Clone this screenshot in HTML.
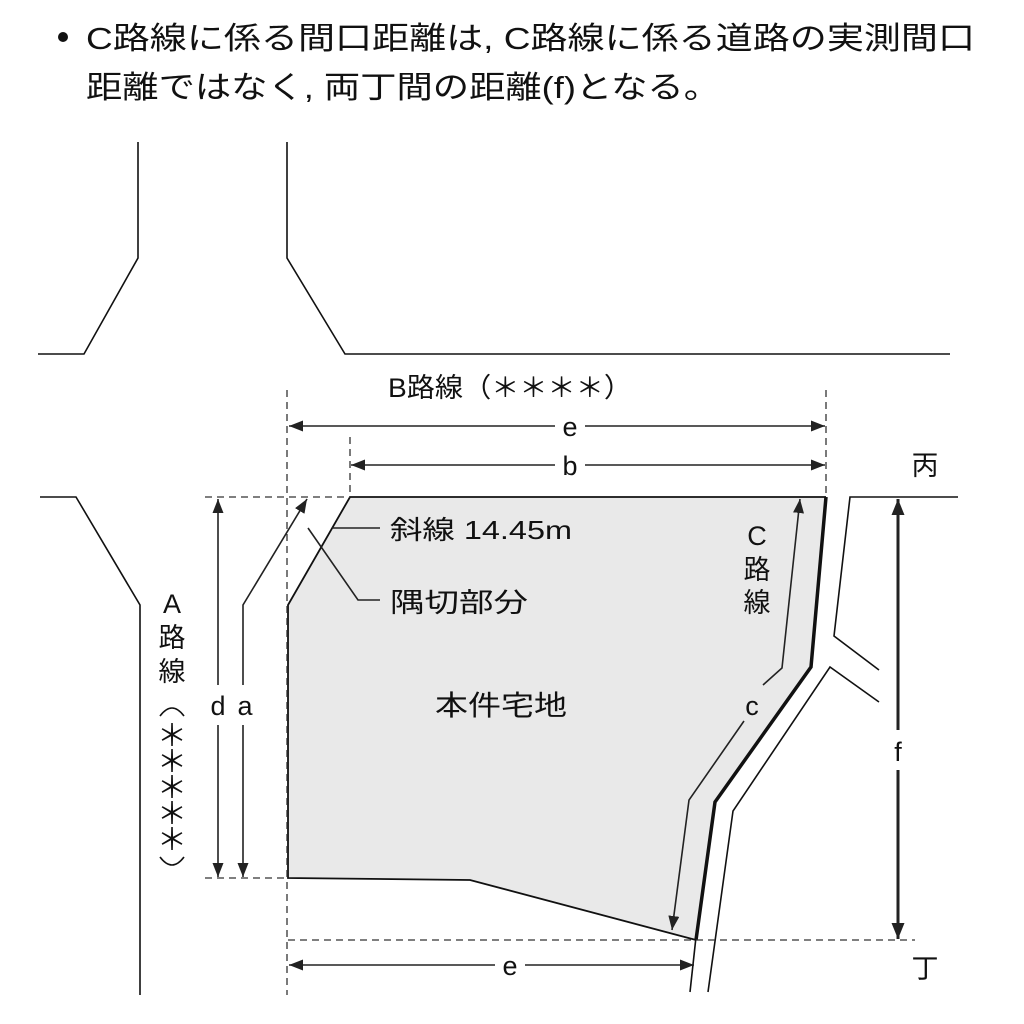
<!DOCTYPE html>
<html><head><meta charset="utf-8"><style>
html,body{margin:0;padding:0;background:#fff;}
svg{display:block;}
text{font-family:"Liberation Sans","Noto Sans CJK JP",sans-serif;fill:#111;}
</style></head><body>
<svg width="1024" height="1024" viewBox="0 0 1024 1024" xmlns="http://www.w3.org/2000/svg">
<defs>
<marker id="ar" viewBox="0 0 10 10" refX="10" refY="5" markerWidth="14" markerHeight="11" orient="auto-start-reverse" markerUnits="userSpaceOnUse" preserveAspectRatio="none"><path d="M0,0 L10,5 L0,10 z" fill="#222"/></marker>
<marker id="ar2" viewBox="0 0 10 10" refX="10" refY="5" markerWidth="16" markerHeight="13" orient="auto-start-reverse" markerUnits="userSpaceOnUse" preserveAspectRatio="none"><path d="M0,0 L10,5 L0,10 z" fill="#222"/></marker>
</defs>
<circle cx="63" cy="37" r="5" fill="#111"/>
<text x="86" y="49" font-size="31" textLength="889" lengthAdjust="spacingAndGlyphs">C路線に係る間口距離は, C路線に係る道路の実測間口</text>
<text x="86" y="98" font-size="31" textLength="634" lengthAdjust="spacingAndGlyphs">距離ではなく, 両丁間の距離(f)となる。</text>

<g stroke="#111" stroke-width="1.6" fill="none">
<polyline points="138,142 138,258 84,354 38,354"/>
<polyline points="287,142 287,258 345,354 950,354"/>
<polyline points="40,497 76,497 140,605 140,995"/>
<polyline points="958,497 850,497 834,636 879,670"/>
<polyline points="879,702 830,667 733,811 708,992"/>
<polyline points="696,937 690,992"/>
</g>
<polygon points="350,497 826,497 811,667 715,802 696,940 470,880 288,878 288,605" fill="#e9e9e9" stroke="none"/>
<polyline points="826,497 350,497 288,605 288,878 470,880 696,940" fill="none" stroke="#111" stroke-width="1.8"/>
<polyline points="826,497 811,667 715,802 696,940" fill="none" stroke="#111" stroke-width="3.5"/>

<g stroke="#333" stroke-width="1.3" stroke-dasharray="7,5" fill="none">
<line x1="287" y1="390" x2="287" y2="995"/>
<line x1="350" y1="437" x2="350" y2="497"/>
<line x1="826" y1="390" x2="826" y2="497"/>
<line x1="205" y1="497" x2="350" y2="497"/>
<line x1="205" y1="878" x2="288" y2="878"/>
<line x1="288" y1="940" x2="915" y2="940"/>
</g>

<g stroke="#222" stroke-width="1.6" fill="none">
<line x1="289" y1="426" x2="555" y2="426" marker-start="url(#ar)"/>
<line x1="585" y1="426" x2="825" y2="426" marker-end="url(#ar)"/>
<line x1="351" y1="465" x2="555" y2="465" marker-start="url(#ar)"/>
<line x1="585" y1="465" x2="825" y2="465" marker-end="url(#ar)"/>
<line x1="289" y1="965" x2="495" y2="965" marker-start="url(#ar)"/>
<line x1="525" y1="965" x2="694" y2="965" marker-end="url(#ar)"/>
<line x1="218" y1="499" x2="218" y2="685" marker-start="url(#ar)"/>
<line x1="218" y1="725" x2="218" y2="877" marker-end="url(#ar)"/>
<polyline points="243,685 243,605 307,499" marker-end="url(#ar)"/>
<line x1="243" y1="725" x2="243" y2="877" marker-end="url(#ar)"/>
<polyline points="763,685 782,668 800,499" marker-end="url(#ar)"/>
<polyline points="744,721 689,800 672,930" marker-end="url(#ar)"/>
<line x1="898" y1="499" x2="898" y2="730" stroke-width="3" marker-start="url(#ar2)"/>
<line x1="898" y1="770" x2="898" y2="939" stroke-width="3" marker-end="url(#ar2)"/>
<polyline points="332,528 380,528"/>
<polyline points="308,528 358,600 380,600"/>
<path d="M160,716 Q172,700 184,716" stroke="#111" stroke-width="1.6"/>
<path d="M160,857 Q172,873 184,857" stroke="#111" stroke-width="1.6"/>
</g>

<text x="388" y="397" font-size="27" textLength="244" lengthAdjust="spacingAndGlyphs">B路線（＊＊＊＊）</text>
<text x="570" y="436" font-size="27" text-anchor="middle">e</text>
<text x="570" y="475" font-size="27" text-anchor="middle">b</text>
<text x="510" y="975" font-size="27" text-anchor="middle">e</text>
<text x="925" y="475" font-size="27" text-anchor="middle">丙</text>
<text x="925" y="978" font-size="27" text-anchor="middle">丁</text>
<text x="390" y="539" font-size="26" textLength="182" lengthAdjust="spacingAndGlyphs">斜線 14.45m</text>
<text x="390" y="612" font-size="27" textLength="138" lengthAdjust="spacingAndGlyphs">隅切部分</text>
<text x="501" y="715" font-size="28" text-anchor="middle" textLength="132" lengthAdjust="spacingAndGlyphs">本件宅地</text>
<text x="757" y="545" font-size="27" text-anchor="middle">C</text>
<text x="757" y="579" font-size="27" text-anchor="middle">路</text>
<text x="757" y="612" font-size="27" text-anchor="middle">線</text>
<text x="752" y="715" font-size="27" text-anchor="middle">c</text>
<text x="898" y="761" font-size="27" text-anchor="middle">f</text>
<text x="218" y="715" font-size="27" text-anchor="middle">d</text>
<text x="245" y="715" font-size="27" text-anchor="middle">a</text>
<text x="172" y="613" font-size="27" text-anchor="middle">A</text>
<text x="172" y="647" font-size="27" text-anchor="middle">路</text>
<text x="172" y="681" font-size="27" text-anchor="middle">線</text>
<text x="172" y="746" font-size="30" text-anchor="middle">＊</text>
<text x="172" y="772" font-size="30" text-anchor="middle">＊</text>
<text x="172" y="798" font-size="30" text-anchor="middle">＊</text>
<text x="172" y="824" font-size="30" text-anchor="middle">＊</text>
<text x="172" y="850" font-size="30" text-anchor="middle">＊</text>
</svg>
</body></html>
